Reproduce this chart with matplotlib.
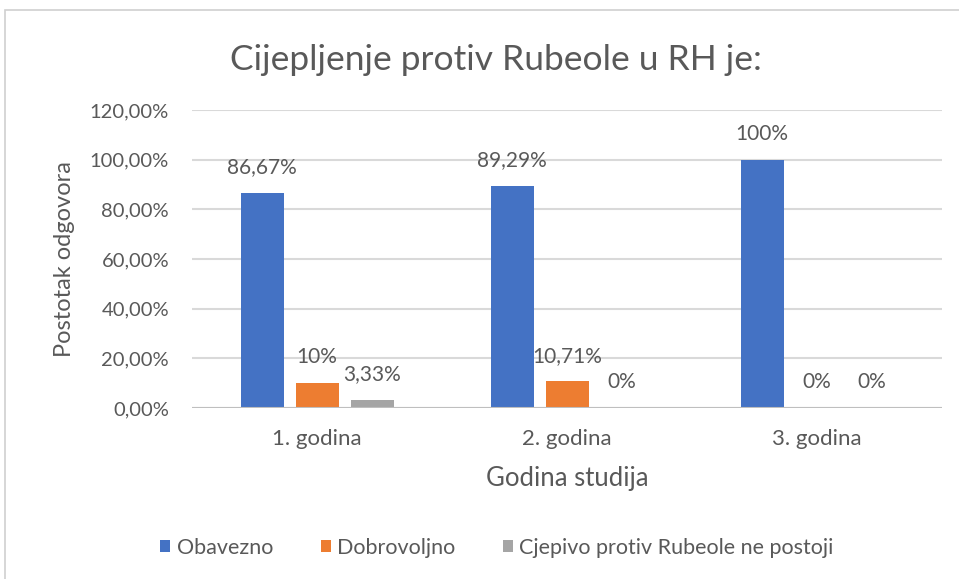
import numpy as np
from matplotlib import pyplot as plt
from matplotlib.patches import Rectangle

# data
categories = ["1. godina", "2. godina", "3. godina"]
series_names = ["Obavezno", "Dobrovoljno", "Cjepivo protiv Rubeole ne postoji"]
obavezno = [86.67, 89.29, 100.0]
dobrovoljno = [10.0, 10.71, 0.0]
ne_postoji = [3.33, 0.0, 0.0]
labels_obavezno = ["86,67%", "89,29%", "100%"]
labels_dobrovoljno = ["10%", "10,71%", "0%"]
labels_ne_postoji = ["3,33%", "0%", "0%"]
yticks = [0, 20, 40, 60, 80, 100, 120]
ytick_labels = ["0,00%", "20,00%", "40,00%", "60,00%", "80,00%", "100,00%", "120,00%"]

colors = ["#4472C4", "#ED7D31", "#A5A5A5"]
text_color = "#595959"
grid_color = "#D9D9D9"

plt.rcParams['font.family'] = ['Lato', 'DejaVu Sans']

fig = plt.figure(figsize=(9.59, 5.79), dpi=100)
W, H = 959, 579

# chart border (light gray frame like the Excel chart area)
fig.patches.append(Rectangle((5 / W, -0.5), 1.2, 1.5 - 10 / H, transform=fig.transFigure,
                             fill=False, edgecolor="#D0D0D0", linewidth=1.2))

ax = fig.add_axes([192 / W, 1 - 408 / H, 750 / W, 298 / H])

x = np.arange(len(categories))
width = 0.172
step = 0.22
all_vals = [obavezno, dobrovoljno, ne_postoji]
all_labels = [labels_obavezno, labels_dobrovoljno, labels_ne_postoji]

for i, (vals, labs) in enumerate(zip(all_vals, all_labels)):
    pos = x + (i - 1) * step
    ax.bar(pos, vals, width, color=colors[i], label=series_names[i], zorder=3)
    # data labels above each bar
    for p, v, lab in zip(pos, vals, labs):
        ax.annotate(lab, (p, v), xytext=(0, 18.5), textcoords="offset points",
                    ha="center", va="center", fontsize=15, color=text_color)

ax.set_xlim(-0.5, 2.5)
ax.set_ylim(0, 120)
ax.set_yticks(yticks)
ax.set_yticklabels(ytick_labels)
ax.set_xticks(x)
ax.set_xticklabels(categories)
ax.tick_params(axis="y", length=0, labelsize=14.5, colors=text_color, pad=16.5)
ax.tick_params(axis="x", length=0, labelsize=16, colors=text_color, pad=15)
ax.grid(axis="y", color=grid_color, linewidth=1.5, zorder=0)
for s in ax.spines.values():
    s.set_visible(False)
ax.axhline(0, color="#BFBFBF", linewidth=1.5, zorder=4)

ax.set_ylabel("Postotak odgovora", fontsize=17, color=text_color, labelpad=11)
ax.set_xlabel("Godina studija", fontsize=18.5, color=text_color, labelpad=12.5)

fig.text(496 / W, 1 - 60 / H, "Cijepljenje protiv Rubeole u RH je:", ha="center", va="center",
         fontsize=25.5, color=text_color)

fig.legend(loc="center", bbox_to_anchor=(497 / W, 1 - 548 / H), ncol=3, frameon=False,
           fontsize=15.5, handlelength=0.47, handleheight=0.47, handletextpad=0.3,
           columnspacing=2.2, labelcolor=text_color)

fig.savefig("out.png", dpi=100)
